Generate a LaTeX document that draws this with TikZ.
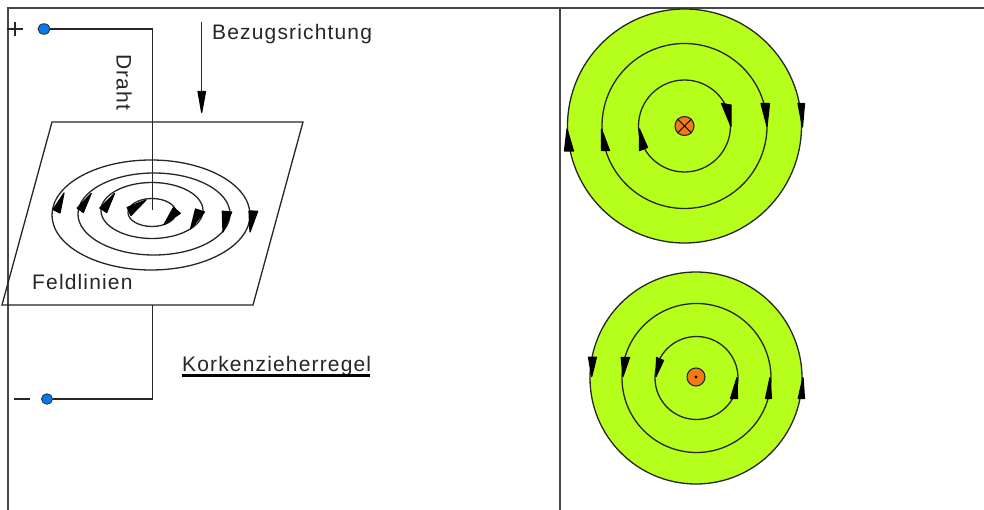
\documentclass[tikz,border=0pt]{standalone}
\usepackage{fontspec}
\setmainfont{Liberation Sans}
\newfontfamily\spaced[LetterSpace=5.5]{Liberation Sans}
\tikzset{
  framing/.style={draw=black!72,line width=1.3pt},
  thinline/.style={draw=black!85,line width=1.3pt},
  field/.style={draw=black!85,line width=1.3pt,fill=fieldgreen},
  wirecore/.style={circle,draw=black!85,line width=1.1pt,fill=corange,minimum size=#1,inner sep=0pt},
  terminal/.style={ellipse,draw=black!85,line width=.8pt,fill=termblue,minimum width=12pt,minimum height=10.5pt,inner sep=0pt},
  headfill/.style={fill=black,draw=black,line width=1.2pt,line join=round},
  lbl/.style={inner sep=0pt,anchor=base west,font=\spaced\fontsize{21}{25}\selectfont,text=black!85}
}
\definecolor{fieldgreen}{HTML}{B6FF1C}
\definecolor{corange}{HTML}{F57A14}
\definecolor{termblue}{HTML}{0A78F0}
\usetikzlibrary{shapes.geometric}
\newcommand{\headat}[3]{\filldraw[headfill] #1 -- #2 -- #3 -- cycle;}
\begin{document}
\begin{tikzpicture}[x=1pt,y=-1pt]
\useasboundingbox (0,0) rectangle (984,510);
\fill[white] (0,0) rectangle (984,510);
% frame
\draw[framing] (984,8) -- (8,8) -- (8,510);
\draw[framing] (560,8) -- (560,510);
% plane
\draw[thinline] (52,122) -- (303,122) -- (253,305) -- (2,305) -- cycle;
% field lines on the plane
\draw[thinline] (151,215) ellipse [x radius=99,y radius=55];
\draw[thinline] (154,214) ellipse [x radius=76,y radius=41];
\draw[thinline] (152,210.5) ellipse [x radius=51,y radius=28];
\draw[thinline] (152,212.5) ellipse [x radius=24,y radius=14];
\headat{(64,193)}{(53,209.5)}{(60,213)}
\headat{(91.2,193.5)}{(77.2,208)}{(83.3,212.5)}
\headat{(114.5,193.5)}{(99.8,208)}{(106.7,212.5)}
\headat{(146,200)}{(127.2,207.5)}{(131,215.5)}
\headat{(250,232)}{(249,211)}{(257.7,211.2)}
\headat{(223,232)}{(222.3,211.2)}{(231.7,212)}
\headat{(190.5,229)}{(195.5,209)}{(204.5,212)}
\headat{(164,224.5)}{(173.5,207.5)}{(180.3,213.3)}
% wires
\node[terminal] (plus) at (44,29) {};
\node[terminal,minimum width=11pt] (minus) at (47,399) {};
\coordinate (ctop) at (152.7,29);
\coordinate (wireend) at (152.7,210);
\coordinate (planeedge) at (152.7,305);
\coordinate (cbot) at (152.7,399);
\draw[thinline] (plus) -- (ctop) -- (wireend);
\draw[thinline] (minus) -- (cbot) -- (planeedge);
% plus and minus signs
\coordinate (pl) at (7,29); \coordinate (pr) at (23,29);
\coordinate (pt) at (15,22); \coordinate (pb) at (15,36);
\draw[thinline] (pl) -- (pr) (pt) -- (pb);
\coordinate (ml) at (14,399); \coordinate (mr) at (30,399);
\draw[thinline] (ml) -- (mr);
% reference direction
\coordinate (refa) at (201.7,22); \coordinate (refb) at (201.7,100);
\draw[thinline] (refa) -- (refb);
\headat{(201.7,112.5)}{(198,91.5)}{(205.5,91.5)}
% labels
\node[lbl] (bez) at (212,40) {Bezugsrichtung};
\node[lbl,rotate=-90] (draht) at (116.5,54) {Draht};
\node[lbl] (feld) at (32,290) {Feldlinien};
\node[lbl] (kork) at (182,371) {Korkenzieherregel};
\coordinate (ula) at (182,375.5); \coordinate (ulb) at (370,375.5);
\draw[draw=black,line width=2.2pt] (ula) -- (ulb);
% upper cross-section: current into the plane
\draw[field] (684.5,126) circle [radius=117];
\draw[thinline] (684.5,126) circle [radius=82.5];
\draw[thinline] (684.5,126) circle [radius=46];
\node[wirecore=19pt] (cin) at (684.5,126) {};
\draw[line width=.8pt,draw=black] (cin.north west) -- (cin.south east) (cin.north east) -- (cin.south west);
\headat{(802.5,127)}{(798,103.5)}{(804.5,103.5)}
\headat{(767,126.5)}{(761,103.5)}{(769.5,103.5)}
\headat{(731,126.5)}{(721.5,103.5)}{(731,105)}
\headat{(567,129)}{(564.5,151)}{(573.5,151)}
\headat{(601.5,129)}{(601.5,150.5)}{(609.5,150.5)}
\headat{(639.5,129)}{(639.5,150.5)}{(647.5,147.5)}
% lower cross-section: current out of the plane
\draw[field] (696,378) circle [radius=106];
\draw[thinline] (696.5,378) circle [radius=74.5];
\draw[thinline] (696.5,378) circle [radius=41.5];
\node[wirecore=18pt] (cout) at (696,377) {};
\fill[black] (cout.center) circle [radius=1.6];
\headat{(591.7,376.5)}{(588.5,357.2)}{(596.5,357.2)}
\headat{(623,376.5)}{(621.2,357.5)}{(629.5,357.5)}
\headat{(656,376.5)}{(656.5,357.5)}{(663.5,360.5)}
\headat{(803,377.5)}{(798.2,398.5)}{(804.5,398.5)}
\headat{(770,377.5)}{(765.5,398.5)}{(771.5,398.5)}
\headat{(737,377.5)}{(730.5,398.5)}{(737.5,398.5)}
\end{tikzpicture}
\end{document}
